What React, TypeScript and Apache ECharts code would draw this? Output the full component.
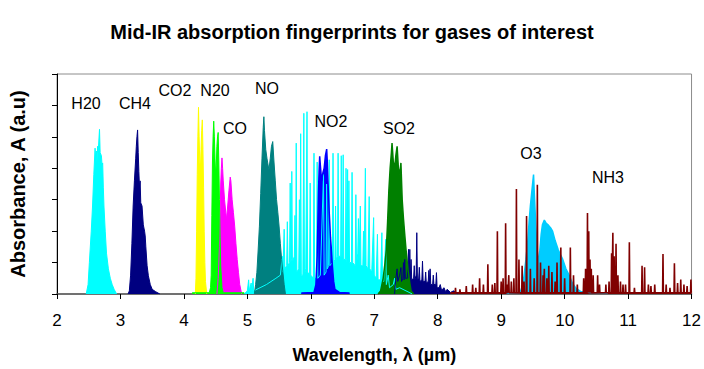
import React, { useEffect, useRef } from "react";
import * as echarts from "echarts";

const xTicks = [2, 3, 4, 5, 6, 7, 8, 9, 10, 11, 12];

const h2oBand1: number[][] = [[2.46,0],[2.49,0.3],[2.51,1.0],[2.54,2.0],[2.56,2.8],[2.58,3.8],[2.60,4.64],[2.61,4.3],[2.62,4.55],[2.63,4.2],[2.64,4.7],[2.65,4.5],[2.66,4.9],[2.67,5.24],[2.68,4.5],[2.70,4.4],[2.71,4.1],[2.72,4.17],[2.73,3.4],[2.74,2.8],[2.76,2.0],[2.78,1.3],[2.81,0.8],[2.84,0.5],[2.87,0.3],[2.90,0.15],[2.94,0]];

const ch4Band1: number[][] = [[3.12,0],[3.14,0.1],[3.16,0.6],[3.18,1.6],[3.20,2.8],[3.22,3.6],[3.24,4.3],[3.25,4.7],[3.26,5.0],[3.27,5.22],[3.28,4.5],[3.29,3.9],[3.30,3.4],[3.31,3.6],[3.32,2.9],[3.34,2.8],[3.36,2.2],[3.38,2.0],[3.39,1.85],[3.40,1.5],[3.42,0.9],[3.44,0.58],[3.47,0.3],[3.50,0.15],[3.55,0.08],[3.62,0]];

const co2Band: number[][] = [[4.18,0],[4.19,0.5],[4.20,2.0],[4.21,3.8],[4.22,5.0],[4.23,5.94],[4.24,5.0],[4.25,4.2],[4.26,4.0],[4.27,4.6],[4.28,5.2],[4.29,5.54],[4.30,4.6],[4.31,3.4],[4.32,2.0],[4.33,1.0],[4.34,0.4],[4.36,0]];

const n2oBand: number[][] = [[4.13,0.04],[4.40,0.04],[4.42,0.2],[4.43,0.6],[4.44,2.5],[4.45,4.2],[4.46,5.0],[4.47,5.5],[4.48,5.0],[4.49,4.3],[4.50,3.8],[4.51,4.1],[4.52,4.7],[4.53,5.0],[4.54,5.14],[4.55,4.2],[4.56,3.0],[4.57,1.8],[4.58,0.9],[4.60,0.2],[4.62,0.04],[4.95,0.04]];

const coBand: number[][] = [[4.52,0],[4.54,0.5],[4.56,1.5],[4.57,2.5],[4.58,3.5],[4.59,4.0],[4.60,4.33],[4.61,4.0],[4.62,3.6],[4.64,3.0],[4.66,2.6],[4.67,2.37],[4.69,2.8],[4.71,3.3],[4.73,3.72],[4.74,3.6],[4.76,3.0],[4.78,2.6],[4.80,2.16],[4.82,1.6],[4.84,1.1],[4.86,0.69],[4.88,0.3],[4.91,0]];

const noBand: number[][] = [[5.11,0],[5.13,0.3],[5.15,0.69],[5.17,1.4],[5.19,2.16],[5.21,3.2],[5.23,4.3],[5.25,5.3],[5.26,5.64],[5.27,5.2],[5.29,4.6],[5.31,4.3],[5.34,3.95],[5.36,4.3],[5.38,4.7],[5.40,4.85],[5.42,4.2],[5.44,3.6],[5.46,3.0],[5.48,2.6],[5.50,2.16],[5.52,1.6],[5.54,1.1],[5.56,0.69],[5.58,0.3],[5.60,0]];

const h2oBand2: number[][] = [[4.95,0],[5.00,0.1],[5.02,0.45],[5.03,0.1],[5.06,0.35],[5.07,0.1],[5.09,0.5],[5.10,0.1],[5.20,0.2],[5.30,0.3],[5.45,0.5],[5.52,0.6],[5.55,1.2],[5.56,0.7],[5.58,2.06],[5.59,0.8],[5.62,0.9],[5.63,2.3],[5.64,0.9],[5.665,1.0],[5.675,3.53],[5.685,1.0],[5.695,1.1],[5.70,3.9],[5.71,1.0],[5.74,1.2],[5.75,2.5],[5.76,0.8],[5.77,4.8],[5.78,0.7],[5.81,0.8],[5.82,3.0],[5.83,0.7],[5.84,5.1],[5.85,0.6],[5.875,0.6],[5.89,5.75],[5.90,0.6],[5.92,0.8],[5.94,5.8],[5.95,0.7],[5.98,0.6],[5.99,3.53],[6.00,0.6],[6.04,0.5],[6.05,4.48],[6.06,0.5],[6.09,0.5],[6.10,4.2],[6.11,0.5],[6.15,0.6],[6.20,3.8],[6.21,0.6],[6.24,0.7],[6.25,3.5],[6.26,0.8],[6.28,0.9],[6.29,4.27],[6.30,0.9],[6.34,1.0],[6.35,4.48],[6.36,1.0],[6.38,1.1],[6.39,2.8],[6.40,1.1],[6.42,1.2],[6.43,4.48],[6.44,1.2],[6.47,1.2],[6.48,4.4],[6.49,1.2],[6.50,1.1],[6.51,4.43],[6.52,1.1],[6.545,1.1],[6.555,4.0],[6.565,1.1],[6.57,1.0],[6.58,3.96],[6.59,1.0],[6.60,3.6],[6.61,1.0],[6.64,1.0],[6.65,3.87],[6.66,1.0],[6.70,0.9],[6.71,3.16],[6.72,0.9],[6.74,1.3],[6.75,2.4],[6.76,0.9],[6.77,0.9],[6.78,2.8],[6.79,0.9],[6.82,0.9],[6.83,2.0],[6.84,0.9],[6.85,0.9],[6.86,4.0],[6.87,0.9],[6.90,0.8],[6.92,3.1],[6.93,0.8],[6.96,0.7],[6.99,2.43],[7.00,0.6],[7.03,0.5],[7.05,1.9],[7.06,0.45],[7.10,0.45],[7.12,1.95],[7.13,0.4],[7.15,0.4],[7.18,1.74],[7.19,0.3],[7.20,0.3],[7.22,0.6],[7.24,0.2],[7.30,0.3],[7.32,0.5],[7.34,0.15],[7.40,0.2],[7.50,0.1],[7.60,0]];

const no2Band: number[][] = [[5.85,0.03],[6.05,0.05],[6.08,0.3],[6.10,1.2],[6.11,2.2],[6.12,3.2],[6.13,3.9],[6.14,4.38],[6.15,4.1],[6.17,3.6],[6.19,3.85],[6.21,4.0],[6.23,4.4],[6.25,4.61],[6.26,4.2],[6.27,3.6],[6.29,2.6],[6.31,1.8],[6.32,1.53],[6.34,0.9],[6.36,0.4],[6.38,0.15],[6.45,0.05],[6.61,0.03]];

const so2Band: number[][] = [[7.06,0],[7.10,0.1],[7.14,0.5],[7.17,1.0],[7.19,1.42],[7.21,2.3],[7.23,3.3],[7.25,4.0],[7.27,4.5],[7.28,4.8],[7.30,4.2],[7.32,4.0],[7.34,4.4],[7.36,4.7],[7.38,4.0],[7.40,3.8],[7.42,4.17],[7.44,3.0],[7.46,2.4],[7.48,1.9],[7.50,1.42],[7.53,0.8],[7.56,0.35],[7.58,0.1],[7.62,0]];

const ch4Band2: number[][] = [[7.32,0],[7.34,0.5],[7.36,0.8],[7.37,0.4],[7.40,0.6],[7.42,0.84],[7.43,0.4],[7.45,0.5],[7.46,1.0],[7.47,0.45],[7.48,1.1],[7.49,0.5],[7.52,0.5],[7.54,1.42],[7.55,0.5],[7.56,1.42],[7.57,0.5],[7.58,1.1],[7.59,0.45],[7.62,0.5],[7.63,0.9],[7.64,0.45],[7.66,0.6],[7.67,1.95],[7.68,0.45],[7.70,0.5],[7.71,0.85],[7.72,0.4],[7.75,0.45],[7.76,1.05],[7.77,0.4],[7.80,0.4],[7.81,0.7],[7.82,0.35],[7.85,0.4],[7.86,0.75],[7.87,0.35],[7.88,0.8],[7.89,0.3],[7.92,0.3],[7.93,0.6],[7.94,0.3],[7.97,0.3],[7.98,0.68],[7.99,0.2],[8.02,0.2],[8.04,0.3],[8.06,0.12],[8.10,0.2],[8.12,0.08],[8.15,0.15],[8.20,0.05],[8.25,0.1],[8.32,0]];

const o3Band: number[][] = [[9.08,0.03],[9.30,0.05],[9.34,0.3],[9.36,0.58],[9.39,1.1],[9.42,1.7],[9.44,2.3],[9.46,2.8],[9.48,3.2],[9.50,3.6],[9.51,3.8],[9.52,3.3],[9.54,2.4],[9.56,1.6],[9.58,1.1],[9.59,1.0],[9.61,1.4],[9.63,1.9],[9.65,2.2],[9.68,2.35],[9.71,2.25],[9.74,2.2],[9.78,2.1],[9.81,2.0],[9.85,1.7],[9.90,1.4],[9.97,1.1],[10.02,0.8],[10.07,0.6],[10.12,0.35],[10.18,0.18],[10.25,0.08],[10.40,0.05],[10.68,0.03]];

// NH3 individual absorption lines: [wavelength, peak]
const nh3Lines: number[][] = [[8.28,0.2],[8.35,0.15],[8.45,0.25],[8.55,0.3],[8.60,0.2],[8.66,0.5],[8.72,0.3],[8.79,0.95],[8.86,0.3],[8.90,0.35],[8.94,2.0],[9.00,0.4],[9.03,0.5],[9.07,2.25],[9.10,0.3],[9.12,0.6],[9.16,0.4],[9.20,0.5],[9.24,3.34],[9.28,1.1],[9.33,0.9],[9.36,0.4],[9.40,2.48],[9.46,0.8],[9.52,0.5],[9.57,3.48],[9.62,1.0],[9.66,0.6],[9.68,0.8],[9.72,0.5],[9.75,0.9],[9.80,0.7],[9.85,0.4],[9.88,1.0],[9.94,1.48],[10.00,0.5],[10.09,1.48],[10.14,0.6],[10.20,0.3],[10.30,0.5],[10.33,0.8],[10.36,2.58],[10.38,2.0],[10.40,1.1],[10.42,0.8],[10.45,0.6],[10.52,0.6],[10.55,0.3],[10.65,0.3],[10.70,0.4],[10.74,1.3],[10.76,1.95],[10.78,1.2],[10.81,1.6],[10.84,0.6],[10.88,0.4],[10.92,0.3],[10.96,0.3],[11.02,1.65],[11.10,0.2],[11.22,0.9],[11.26,0.85],[11.32,0.3],[11.36,0.25],[11.42,0.3],[11.55,1.27],[11.60,0.3],[11.66,0.2],[11.73,0.98],[11.78,0.35],[11.83,0.46],[11.88,0.3],[11.93,0.25],[11.99,0.46]];
const nh3Range = [8.2, 12];
const nh3Base = 0.04;

const labels: { text: string; x: number; y: number }[] = [
  { text: "H20", x: 86, y: 103 },
  { text: "CH4", x: 135, y: 103 },
  { text: "CO2", x: 175, y: 90 },
  { text: "N20", x: 215, y: 90 },
  { text: "CO", x: 235, y: 128 },
  { text: "NO", x: 267, y: 88 },
  { text: "NO2", x: 331, y: 121 },
  { text: "SO2", x: 399, y: 128 },
  { text: "O3", x: 531, y: 153 },
  { text: "NH3", x: 608, y: 177 },
];

const FONT = "'Liberation Sans', Arial, Helvetica, sans-serif";

function spikes(lines: number[][], range: number[], base: number): number[][] {
  const out: number[][] = [[range[0], base]];
  for (const [x, h] of lines) {
    out.push([x - 0.006, base], [x, h], [x + 0.006, base]);
  }
  out.push([range[1], base]);
  return out;
}

function area(name: string, data: number[][], color: string, width = 1) {
  return {
    name,
    type: "line",
    data,
    showSymbol: false,
    symbol: "none",
    smooth: false,
    lineStyle: { color, width },
    areaStyle: { color, opacity: 1 },
    itemStyle: { color },
  };
}

export default function App() {
  const ref = useRef<HTMLDivElement>(null);
  useEffect(() => {
    document.body.style.margin = "0";
    const chart = echarts.init(ref.current!, undefined, { renderer: "svg" });
    chart.setOption({
      animation: false,
      backgroundColor: "#ffffff",
      title: {
        text: "Mid-IR absorption fingerprints for gases of interest",
        left: "center",
        top: 17,
        textStyle: { fontFamily: FONT, fontSize: 20, fontWeight: "bold", color: "#000" },
      },
      grid: {
        left: 57,
        right: 10,
        top: 74,
        bottom: 74,
        show: true,
        borderColor: "#8c8c8c",
        borderWidth: 1,
      },
      xAxis: {
        type: "value",
        min: 2,
        max: 12,
        interval: 1,
        name: "Wavelength, \u03bb (\u00b5m)",
        nameLocation: "middle",
        nameGap: 52,
        nameTextStyle: { fontFamily: FONT, fontSize: 18, fontWeight: "bold", color: "#000" },
        axisLine: { show: true, lineStyle: { color: "#555", width: 1.5 } },
        axisTick: { show: true, inside: false, length: 5, lineStyle: { color: "#000" } },
        axisLabel: {
          fontFamily: FONT,
          fontSize: 17,
          color: "#000",
          margin: 18,
          formatter: (v: number) => (xTicks.includes(v) ? String(v) : ""),
        },
        splitLine: { show: false },
      },
      yAxis: {
        type: "value",
        min: 0,
        max: 7,
        interval: 1,
        name: "Absorbance, A (a.u)",
        nameLocation: "middle",
        nameGap: 29,
        nameTextStyle: { fontFamily: FONT, fontSize: 20, fontWeight: "bold", color: "#000" },
        axisLine: { show: true, lineStyle: { color: "#000", width: 1 } },
        axisTick: { show: true, inside: false, length: 5, lineStyle: { color: "#000" } },
        axisLabel: { show: false },
        splitLine: { show: false },
      },
      series: [
        area("H2O (5-7.6 µm)", h2oBand2, "#00FFFF"),
        area("NO", noBand, "#008080"),
        area("NO2", no2Band, "#0000FF", 1.5),
        area("CH4 (7.3-8.3 µm)", ch4Band2, "#000080"),
        area("SO2", so2Band, "#008000", 1.5),
        area("O3", o3Band, "#00CCFF", 1.5),
        area("NH3", spikes(nh3Lines, nh3Range, nh3Base), "#800000", 1.6),
        area("H2O", h2oBand1, "#00FFFF"),
        area("CH4", ch4Band1, "#000080"),
        area("CO2", co2Band, "#FFFF00"),
        area("CO", coBand, "#FF00FF"),
        area("N2O", n2oBand, "#00FF00"),
      ],
      graphic: labels.map((l) => ({
        type: "text",
        x: l.x,
        y: l.y,
        z: 100,
        style: {
          text: l.text,
          fontFamily: FONT,
          fontSize: 16,
          fill: "#000",
          align: "center",
          verticalAlign: "middle",
        },
      })),
    });
    return () => chart.dispose();
  }, []);
  return (
    <div
      ref={ref}
      style={{ position: "absolute", left: 0, top: 0, width: 704, height: 369 }}
    />
  );
}
